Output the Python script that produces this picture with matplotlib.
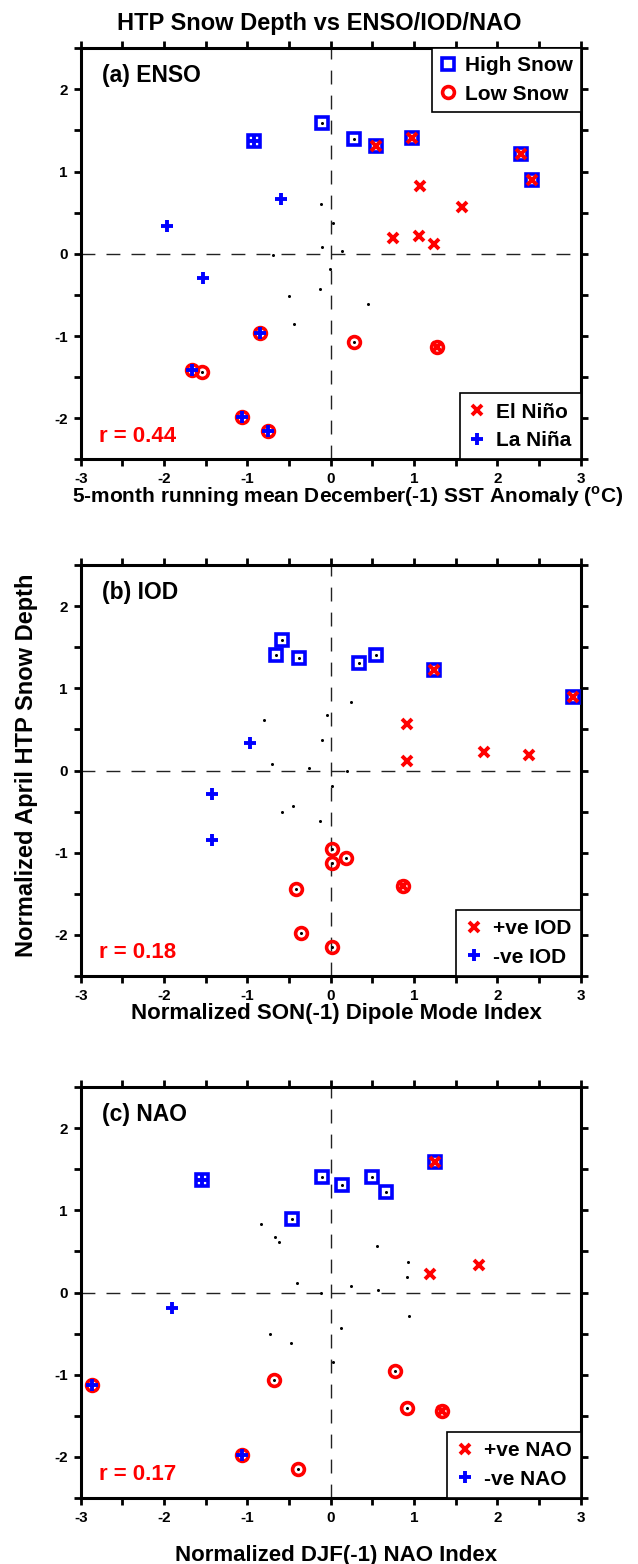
import matplotlib
matplotlib.use('Agg')
import matplotlib.pyplot as plt
import numpy as np
from matplotlib.lines import Line2D
from matplotlib.ticker import MultipleLocator

plt.rcParams['font.family'] = ['Liberation Sans', 'DejaVu Sans']
plt.rcParams['font.weight'] = 'bold'
plt.rcParams['axes.unicode_minus'] = False
plt.rcParams['mathtext.fontset'] = 'custom'
plt.rcParams['mathtext.rm'] = 'Liberation Sans:bold'
plt.rcParams['mathtext.bf'] = 'Liberation Sans:bold'

# ---------------- data ----------------
# Normalized April HTP snow depth (shared by all panels)
snow = [1.59, 1.41, 1.40, 1.37, 1.31, 1.22, 0.90,
        0.83, 0.67, 0.61, 0.57, 0.37, 0.34, 0.22, 0.19, 0.12, 0.08, 0.03,
        -0.01, -0.19, -0.29, -0.43, -0.51, -0.61, -0.85,
        -0.96, -1.07, -1.13, -1.41, -1.44, -1.98, -2.15]
# snow class: 1 = high snow, -1 = low snow, 0 = normal
snow_class = [1] * 7 + [0] * 18 + [-1] * 7

enso_x = [-0.10, 0.97, 0.28, -0.92, 0.54, 2.28, 2.42,
          1.07, -0.60, -0.12, 1.57, 0.03, -1.96, 1.06, 0.75, 1.24, -0.11, 0.13,
          -0.69, -0.01, -1.53, -0.13, -0.50, 0.45, -0.44,
          -0.85, 0.28, 1.28, -1.66, -1.55, -1.07, -0.75]
enso_phase = [0, 1, 0, -1, 1, 1, 1,
              1, -1, 0, 1, 0, -1, 1, 1, 1, 0, 0,
              0, 0, -1, 0, 0, 0, 0,
              -1, 0, 1, -1, 0, -1, -1]

iod_x = [-0.59, 0.54, -0.66, -0.38, 0.34, 1.24, 2.91,
         0.24, -0.04, -0.80, 0.92, -0.10, -0.97, 1.84, 2.38, 0.92, -0.70, -0.26,
         0.20, 0.01, -1.42, -0.45, -0.59, -0.13, -1.42,
         0.02, 0.18, 0.02, 0.87, -0.42, -0.36, 0.01]
iod_phase = [0, 0, 0, 0, 0, 1, 1,
             0, 0, 0, 1, 0, -1, 1, 1, 1, 0, 0,
             0, 0, -1, 0, 0, 0, -1,
             0, 0, 0, 1, 0, 0, 0]

nao_x = [1.25, 0.50, -0.11, -1.55, 0.14, 0.66, -0.46,
         -0.84, -0.67, -0.62, 0.56, 0.93, 1.78, 1.19, 0.92, -0.41, 0.24, 0.57,
         -0.12, -1.91, 0.94, 0.12, -0.73, -0.48, 0.03,
         0.77, -0.68, -2.87, 0.92, 1.34, -1.07, -0.39]
nao_phase = [1, 0, 0, -1, 0, 0, 0,
             0, 0, 0, 0, 0, 1, 1, 0, 0, 0, 0,
             0, -1, 0, 0, 0, 0, 0,
             0, 0, -1, 0, 1, -1, 0]

panel_labels = ['(a) ENSO', '(b) IOD', '(c) NAO']
r_labels = ['r = 0.44', 'r = 0.18', 'r = 0.17']
x_labels = ['5-month running mean December(-1) SST Anomaly ($^{\\mathrm{o}}$C)',
            'Normalized SON(-1) Dipole Mode Index',
            'Normalized DJF(-1) NAO Index']
phase_labels = [['El Ni\u00f1o', 'La Ni\u00f1a'],
                ['+ve IOD', '-ve IOD'],
                ['+ve NAO', '-ve NAO']]
snow_labels = ['High Snow', 'Low Snow']
y_label = 'Normalized April HTP Snow Depth'
title = 'HTP Snow Depth vs ENSO/IOD/NAO'

# ---------------- styles ----------------
W, H = 638, 1564
fig = plt.figure(figsize=(W / 100, H / 100), dpi=100)

sq_kw = dict(ls='none', marker='s', ms=8.5, mfc='none', mec='#0000ff', mew=2.6)
ci_kw = dict(ls='none', marker='o', ms=8.5, mfc='none', mec='#ff0000', mew=2.6)
x_kw = dict(ls='none', marker='x', ms=7, mec='#ff0000', mew=2.8)
p_kw = dict(ls='none', marker='+', ms=9, mec='#0000ff', mew=2.8)
dot_kw = dict(ls='none', marker='o', ms=2.2, mfc='k', mec='k', mew=0)

ax_left = 80.7 / W
ax_w = 500 / W
ax_h = 411 / H
bottoms_px = [459.3, 976.0, 1498.0]
xlabel_pos_px = [(348, 497), (336, 1013), (336, 1555)]
xlabel_size = [15, 16, 16]

snow_a = np.array(snow)
cls = np.array(snow_class)
xs_all = [np.array(enso_x), np.array(iod_x), np.array(nao_x)]
ph_all = [np.array(enso_phase), np.array(iod_phase), np.array(nao_phase)]

for i in range(3):
    ax = fig.add_axes([ax_left, 1 - bottoms_px[i] / H, ax_w, ax_h])
    x = xs_all[i]
    ph = ph_all[i]
    ax.set_xlim(-3, 3)
    ax.set_ylim(-2.5, 2.5)
    dash = (0, (10, 8))
    ax.axhline(0, color='#222222', lw=1.0, ls=dash, zorder=1)
    ax.axvline(0, color='#222222', lw=1.0, ls=dash, zorder=1)

    ax.plot(x, snow_a, zorder=2, **dot_kw)
    ax.plot(x[cls == 1], snow_a[cls == 1], zorder=3, **sq_kw)
    ax.plot(x[cls == -1], snow_a[cls == -1], zorder=3, **ci_kw)
    ax.plot(x[ph == 1], snow_a[ph == 1], zorder=4, **x_kw)
    ax.plot(x[ph == -1], snow_a[ph == -1], zorder=4, **p_kw)

    ax.xaxis.set_major_locator(MultipleLocator(1))
    ax.xaxis.set_minor_locator(MultipleLocator(0.5))
    ax.yaxis.set_major_locator(MultipleLocator(1))
    ax.yaxis.set_minor_locator(MultipleLocator(0.5))
    ax.tick_params(which='both', direction='out', length=5, width=2.0,
                   top=True, right=True, labelsize=11, pad=4.5)
    for lab in ax.get_xticklabels() + ax.get_yticklabels():
        lab.set_fontweight('bold')
    for s in ax.spines.values():
        s.set_linewidth(2.2)

    ax.text(0.042, 0.917, panel_labels[i], transform=ax.transAxes,
            fontsize=16.5, fontweight='bold', va='baseline', ha='left')
    ax.text(0.037, 0.043, r_labels[i], transform=ax.transAxes, color='#ff0000',
            fontsize=16, fontweight='bold', va='baseline', ha='left')

    cx, cy = xlabel_pos_px[i]
    fig.text(cx / W, 1 - cy / H, x_labels[i],
             ha='center', va='center', fontsize=xlabel_size[i], fontweight='bold')

    leg_kw = dict(fancybox=False, edgecolor='k', framealpha=1, fontsize=15,
                  handlelength=0.8, handletextpad=0.4, borderpad=0.38,
                  labelspacing=0.45, borderaxespad=0)
    if i == 0:
        h1 = Line2D([], [], **sq_kw)
        h2 = Line2D([], [], **ci_kw)
        leg1 = ax.legend([h1, h2], snow_labels, loc='upper right', **leg_kw)
        leg1.get_frame().set_linewidth(1.2)
        leg1.set_zorder(10)
        ax.add_artist(leg1)
    hx = Line2D([], [], **x_kw)
    hp = Line2D([], [], **p_kw)
    leg_kw2 = dict(leg_kw)
    leg_kw2.update(borderpad=0.45, handletextpad=0.5)
    leg2 = ax.legend([hx, hp], phase_labels[i], loc='lower right', **leg_kw2)
    leg2.get_frame().set_linewidth(1.2)
    leg2.set_zorder(10)

fig.text(0.5, 1 - 30 / H, title, ha='center', va='baseline',
         fontsize=17, fontweight='bold')
fig.text(27 / W, 1 - 765 / H, y_label, ha='center', va='center',
         rotation=90, fontsize=17, fontweight='bold')

fig.savefig('out.png', dpi=100)
